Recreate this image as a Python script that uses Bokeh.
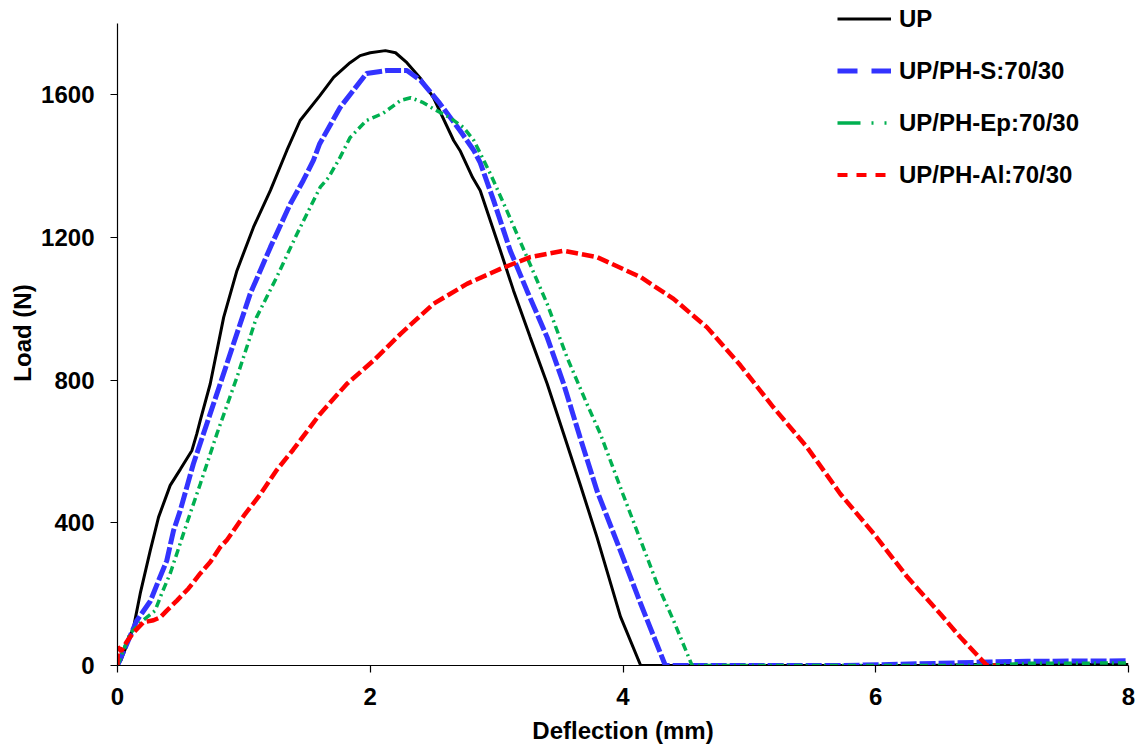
from bokeh.plotting import figure
from bokeh.models import Legend, LegendItem, FixedTicker
from bokeh.embed import file_html
from bokeh.resources import INLINE

# ---- data ----
up_x = [0, 0.027, 0.127, 0.18, 0.259, 0.325, 0.417, 0.497, 0.589, 0.628, 0.655, 0.734, 0.84, 0.945,
        1.076, 1.21, 1.34, 1.445, 1.6, 1.71, 1.84, 1.92, 2.0, 2.12, 2.2, 2.29, 2.4, 2.5, 2.66,
        2.71, 2.81, 2.87, 3.03, 3.134, 3.266, 3.4, 3.53, 3.66, 3.794, 3.98, 4.14, 6.4, 6.8, 8.0]
up_y = [0, 14, 107, 202, 322, 416, 505, 550, 603, 650, 687, 790, 976, 1107,
        1229, 1332, 1444, 1528, 1597, 1649, 1690, 1710, 1718, 1724, 1718, 1690, 1645, 1592, 1472,
        1444, 1368, 1332, 1163, 1051, 920, 790, 650, 509, 360, 137, 0, 0, 3, 3]

s_x = [0, 0.061, 0.153, 0.2, 0.259, 0.325, 0.39, 0.443, 0.496, 0.6, 0.707, 0.813, 0.918, 1.05,
       1.21, 1.367, 1.47, 1.55, 1.6, 1.76, 1.97, 2.13, 2.29, 2.4, 2.55, 2.71, 2.82, 2.87, 2.976,
       3.108, 3.24, 3.4, 3.53, 3.66, 3.794, 3.97, 4.14, 4.335, 5.74, 6.5, 6.9, 7.2, 8.0]
s_y = [0, 50, 126, 150, 180, 238, 294, 378, 434, 565, 678, 790, 902, 1042,
       1173, 1294, 1360, 1416, 1463, 1564, 1660, 1668, 1668, 1640, 1576, 1500, 1444, 1410, 1304,
       1163, 1051, 920, 790, 640, 490, 330, 173, 0, 0, 6, 10, 12, 13]

ep_x = [0, 0.1, 0.2, 0.298, 0.35, 0.417, 0.496, 0.55, 0.655, 0.787, 0.945, 1.1, 1.26, 1.42,
        1.604, 1.67, 1.76, 1.84, 1.97, 2.1, 2.24, 2.32, 2.42, 2.5, 2.63, 2.74, 2.82, 2.95, 3.08,
        3.24, 3.4, 3.557, 3.715, 3.82, 4.0, 4.14, 4.27, 4.40, 4.52, 4.546, 6.85, 7.2, 8.0]
ep_y = [0, 90, 126, 154, 202, 258, 342, 400, 509, 650, 808, 976, 1089, 1210,
        1341, 1368, 1424, 1480, 1528, 1548, 1584, 1592, 1578, 1561, 1536, 1508, 1472, 1379, 1276,
        1145, 1014, 864, 733, 650, 480, 350, 229, 126, 23, 0, 0, 6, 7]

al_x = [0, 0.003, 0.03, 0.07, 0.125, 0.205, 0.285, 0.338, 0.39, 0.47, 0.562, 0.655, 0.734, 0.813,
        0.866, 1.0, 1.13, 1.26, 1.39, 1.6, 1.816, 2.026, 2.24, 2.5, 2.765, 3.03, 3.266, 3.53,
        3.794, 4.14, 4.40, 4.665, 4.93, 5.19, 5.456, 5.72, 5.985, 6.25, 6.51, 6.67, 6.83, 6.88, 6.95]
al_y = [0, 52, 40, 65, 92, 121, 127, 135, 154, 182, 216, 258, 290, 332,
        352, 420, 480, 548, 605, 704, 790, 855, 930, 1014, 1070, 1112, 1145, 1163,
        1145, 1089, 1028, 948, 841, 724, 612, 481, 369, 248, 145, 79, 19, 0, 0]

series_labels = ["UP", "UP/PH-S:70/30", "UP/PH-Ep:70/30", "UP/PH-Al:70/30"]
x_ticks = [0, 2, 4, 6, 8]
y_ticks = [0, 400, 800, 1200, 1600]
y_axis_max = 1800

FONT = "Liberation Sans"

# frame reaches the top edge so the legend (which sits above the axis top) is not clipped;
# the visible y axis line stops at 1800
p = figure(width=1143, height=751, x_range=(0, 8), y_range=(0, 1864.5),
           output_backend="svg", toolbar_location=None,
           min_border_left=117, min_border_right=15, min_border_top=0, min_border_bottom=86)
p.outline_line_color = None
p.grid.visible = False
p.background_fill_color = "white"

for ax in (p.xaxis, p.yaxis):
    ax.axis_line_color = "black"
    ax.axis_line_width = 1.2
    ax.major_tick_line_color = "black"
    ax.major_tick_line_width = 1.2
    ax.major_tick_out = 7
    ax.major_tick_in = 0
    ax.minor_tick_line_color = None
    ax.major_label_text_font = FONT
    ax.major_label_text_font_size = "24px"
    ax.major_label_text_font_style = "bold"
    ax.major_label_text_color = "black"
    ax.axis_label_text_font = FONT
    ax.axis_label_text_font_size = "24px"
    ax.axis_label_text_font_style = "bold"
    ax.axis_label_text_color = "black"

p.xaxis.ticker = FixedTicker(ticks=x_ticks)
p.yaxis.ticker = FixedTicker(ticks=y_ticks)
p.yaxis.bounds = (0, y_axis_max)
p.xaxis.axis_label = "Deflection (mm)"
p.yaxis.axis_label = "Load (N)"
p.xaxis.major_label_standoff = 15
p.xaxis.axis_label_standoff = 9
p.yaxis.major_label_standoff = 16
p.yaxis.axis_label_standoff = 2

BLACK = "#000000"
BLUE = "#3333FF"
GREEN = "#00B050"
RED = "#FF0000"

# plotted curves
p.line(up_x, up_y, line_color=BLACK, line_width=3)
p.line(s_x, s_y, line_color=BLUE, line_width=5, line_dash="16 3")
p.line(ep_x, ep_y, line_color=GREEN, line_width=3.5, line_dash="8 4 2 4")
p.line(al_x, al_y, line_color=RED, line_width=4.5, line_dash="12 4")

# legend proxies (same series, drawn with the legend's dash patterns)
nan = float("nan")
l1 = p.line([nan], [nan], line_color=BLACK, line_width=3)
l2 = p.line([nan], [nan], line_color=BLUE, line_width=5, line_dash="20 14")
l3 = p.line([nan], [nan], line_color=GREEN, line_width=3.5, line_dash="23 11 2 11 2 11")
l4 = p.line([nan], [nan], line_color=RED, line_width=4, line_dash="10 9")

legend = Legend(items=[LegendItem(label=series_labels[0], renderers=[l1]),
                       LegendItem(label=series_labels[1], renderers=[l2]),
                       LegendItem(label=series_labels[2], renderers=[l3]),
                       LegendItem(label=series_labels[3], renderers=[l4])],
                location=(720, 475), padding=0, margin=0, spacing=21,
                glyph_width=54, glyph_height=31, label_height=31, label_standoff=8,
                label_text_font=FONT, label_text_font_size="24px",
                label_text_font_style="bold", label_text_color="black",
                border_line_color=None, background_fill_alpha=0)
p.add_layout(legend)

open("out.html", "w").write(file_html(p, INLINE))
